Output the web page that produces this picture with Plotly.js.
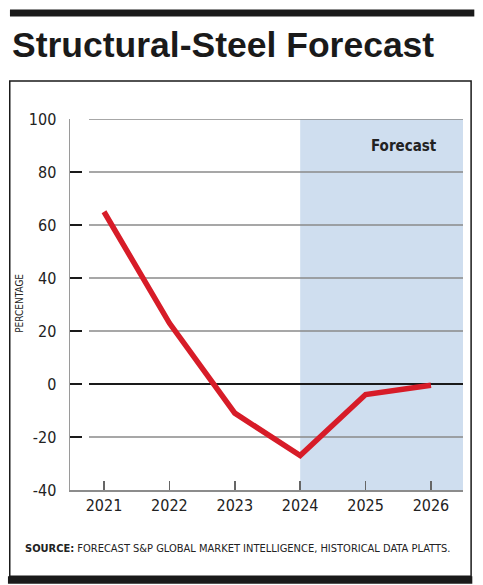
<!DOCTYPE html>
<html>
<head>
<meta charset="utf-8">
<script src="https://cdn.plot.ly/plotly-3.0.1.min.js"></script>
<style>
html,body{margin:0;padding:0;background:#fff;}
#chart{width:483px;height:585px;}
</style>
</head>
<body>
<div id="chart"></div>
<script>
// ---- data ----
const years = [2021, 2022, 2023, 2024, 2025, 2026];
const percentChange = [65, 23, -11, -27, -4, -0.5];
const yTickValues = [-40, -20, 0, 20, 40, 60, 80, 100];
const yTickLabels = ['-40', '-20', '0', '20', '40', '60', '80', '100'];
const forecastStart = 2024;
const titleText = 'Structural-Steel Forecast';
const yAxisLabel = 'PERCENTAGE';
const forecastLabel = 'Forecast';
const sourceText = '<b>SOURCE:</b> FORECAST S&P GLOBAL MARKET INTELLIGENCE, HISTORICAL DATA PLATTS.';

// ---- layout geometry ----
const W = 483, H = 585;
const M = {l: 70, r: 20.3, t: 118.7, b: 94.5};
const PW = W - M.l - M.r, PH = H - M.t - M.b;
const xp = px => (px - M.l) / PW;
const yp = py => (H - M.b - py) / PH;
const xRange = [2020.48, 2026.49];
const yRange = [-40, 100];

const NARROW = '"DejaVu Sans Condensed", "Liberation Sans Narrow", "Arial Narrow", sans-serif';

const trace = {
  x: years, y: percentChange, type: 'scatter', mode: 'lines',
  line: {color: '#d71c28', width: 5.5},
  hoverinfo: 'skip'
};

// gridlines start a little to the right of the tick marks, as in the reference
const gridShapes = yTickValues.filter(v => v !== yRange[0]).map(v => ({
  type: 'line', xref: 'paper', yref: 'y', x0: xp(89), x1: 1, y0: v, y1: v,
  line: {color: v === 0 ? '#1a1a1a' : '#8a8a8a', width: v === 0 ? 2 : 1.5},
  layer: 'below'
}));

const layout = {
  width: W, height: H,
  margin: M,
  paper_bgcolor: '#ffffff', plot_bgcolor: 'rgba(0,0,0,0)',
  showlegend: false,
  title: {
    text: titleText,
    font: {family: '"Liberation Sans", Arial, sans-serif', size: 35.5, weight: 700, color: '#1a1a1a'},
    xref: 'container', x: 12 / W, xanchor: 'left',
    yref: 'container', y: 1 - 45 / H, yanchor: 'middle'
  },
  xaxis: {
    range: xRange, tickmode: 'array', tickvals: years, ticktext: years.map(String),
    showgrid: false, zeroline: false,
    showline: true, linecolor: '#8c8c8c', linewidth: 1.5,
    ticks: 'inside', ticklen: 9, tickwidth: 1.5, tickcolor: '#666',
    tickfont: {family: NARROW, size: 16, color: '#222'},
    fixedrange: true
  },
  yaxis: {
    range: yRange, tickmode: 'array', tickvals: yTickValues, ticktext: yTickLabels,
    showgrid: false, zeroline: false,
    showline: true, linecolor: '#9a9a9a', linewidth: 1.5,
    ticks: 'inside', ticklen: 12, tickwidth: 2, tickcolor: '#1a1a1a',
    ticklabelstandoff: 9,
    tickfont: {family: NARROW, size: 16, color: '#222'},
    fixedrange: true
  },
  shapes: [
    // forecast shading
    {type: 'rect', xref: 'x', yref: 'paper', x0: forecastStart, x1: xRange[1], y0: 0, y1: 1,
     fillcolor: '#cfdeef', line: {width: 0}, layer: 'below'},
    ...gridShapes,
    // top black bar
    {type: 'rect', xref: 'paper', yref: 'paper', x0: xp(10), x1: xp(474), y0: yp(16), y1: yp(9),
     fillcolor: '#1a1a1a', line: {width: 0}},
    // frame
    {type: 'rect', xref: 'paper', yref: 'paper', x0: xp(9.8), x1: xp(470.8), y0: yp(577), y1: yp(80.7),
     fillcolor: 'rgba(0,0,0,0)', line: {color: '#1a1a1a', width: 1.5}},
    // bottom black bar
    {type: 'rect', xref: 'paper', yref: 'paper', x0: xp(8), x1: xp(472), y0: yp(584.5), y1: yp(577),
     fillcolor: '#1a1a1a', line: {width: 0}}
  ],
  annotations: [
    {text: forecastLabel, xref: 'paper', yref: 'paper', x: xp(438.5), y: yp(146), xanchor: 'right', yanchor: 'middle',
     showarrow: false, font: {family: NARROW, size: 15, weight: 700, color: '#222'}},
    {text: yAxisLabel, xref: 'paper', yref: 'paper', x: xp(20), y: yp(303), xanchor: 'center', yanchor: 'middle',
     textangle: -90, showarrow: false, font: {family: NARROW, size: 10, color: '#222'}},
    {text: sourceText, xref: 'paper', yref: 'paper', x: xp(23), y: yp(549), xanchor: 'left', yanchor: 'middle',
     showarrow: false, font: {family: NARROW, size: 11, color: '#222'}}
  ]
};

Plotly.newPlot('chart', [trace], layout, {displayModeBar: false, staticPlot: true});
</script>
</body>
</html>
